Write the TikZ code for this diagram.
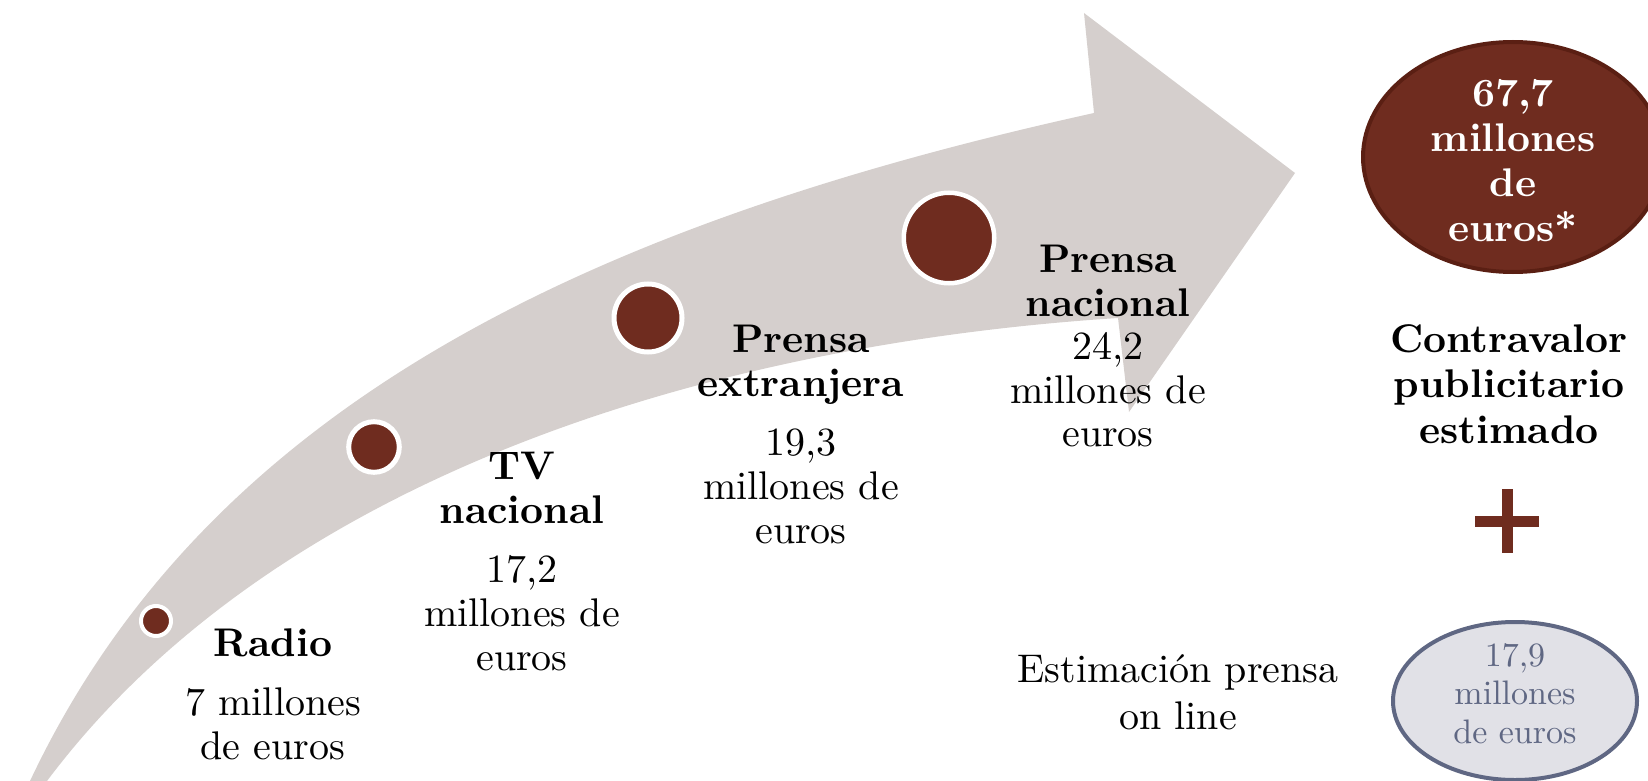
\documentclass[tikz,border=0pt]{standalone}
\usepackage{fontspec}
\setmainfont{lmroman10-regular.otf}[BoldFont=lmroman10-bold.otf]
\usetikzlibrary{shapes.geometric}
\definecolor{band}{HTML}{D5CFCD}
\definecolor{brown}{HTML}{6F2C1F}
\definecolor{brownedge}{HTML}{5A1F13}
\definecolor{paleblue}{HTML}{E1E1E7}
\definecolor{slate}{HTML}{5F6783}
\tikzset{
  lbl/.style={align=center, inner sep=0pt, anchor=north, font=\fontsize{40}{44}\selectfont},
  dot/.style={circle, fill=brown, draw=white, inner sep=0pt},
}
\begin{document}
\begin{tikzpicture}[x=1pt, y=-1pt]
\useasboundingbox (0,0) rectangle (1648,781);
\clip (0,0) rectangle (1648,781);
% curved arrow
\fill[band] (30,781) .. controls (205,410) and (581,226) .. (1094,113)
  -- (1084,13) -- (1295,173) -- (1129,412) -- (1118,318)
  .. controls (700,345) and (272,481) .. (47,781) -- cycle;
% dots
\node[dot, line width=4pt, minimum size=30pt] (d1) at (156,621) {};
\node[dot, line width=5pt, minimum size=50.6pt] (d2) at (374,447) {};
\node[dot, line width=5pt, minimum size=68pt] (d3) at (648,318) {};
\node[dot, line width=4.5pt, minimum size=90.5pt] (d4) at (949,238) {};
% labels
\node[lbl] (radio) at (273,629) {\textbf{Radio}\\[15pt]7 millones\\de euros};
\node[lbl] (tv) at (522,452) {\textbf{TV}\\\textbf{nacional}\\[15pt]17,2\\millones de\\euros};
\node[lbl] (pe) at (801,325) {\textbf{Prensa}\\\textbf{extranjera}\\[15pt]19,3\\millones de\\euros};
\node[lbl, font=\fontsize{40}{43.5}\selectfont] (pn) at (1108,245) {\textbf{Prensa}\\\textbf{nacional}\\24,2\\millones de\\euros};
% right column
\node[ellipse, fill=brown, draw=brownedge, line width=4pt, minimum width=300pt, minimum height=230pt, inner sep=0pt] (tot) at (1513,157) {};
\node[lbl, text=white, font=\fontsize{40}{45}\selectfont\bfseries] (totx) at (1513,79) {67,7\\millones\\de\\euros*};
\node[lbl, font=\fontsize{40}{45.5}\selectfont\bfseries] (cv) at (1509,324) {Contravalor\\publicitario\\estimado};
\fill[brown] (1475,516) rectangle (1539,527);
\fill[brown] (1502,489) rectangle (1513,553);
\node[lbl, font=\fontsize{40}{47}\selectfont] (est) at (1178,654) {Estimación prensa\\on line};
\node[ellipse, fill=paleblue, draw=slate, line width=4pt, minimum width=244pt, minimum height=158pt, inner sep=0pt] (onl) at (1515,701) {};
\node[lbl, text=slate, font=\fontsize{34}{38.5}\selectfont] (onlx) at (1515,643) {17,9\\millones\\de euros};
\end{tikzpicture}
\end{document}
